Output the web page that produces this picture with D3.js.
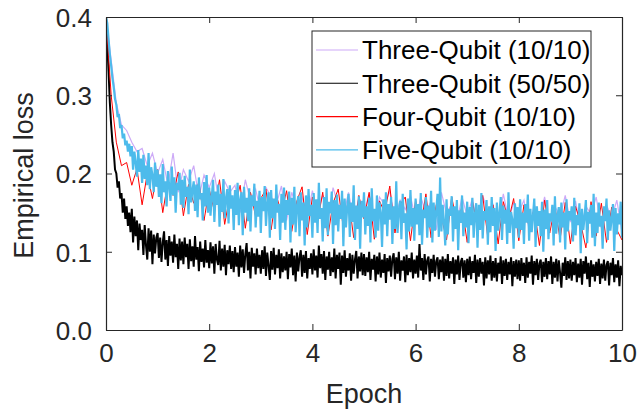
<!DOCTYPE html>
<html>
<head>
<meta charset="utf-8">
<script src="https://cdn.jsdelivr.net/npm/d3@7"></script>
<style>
  body { margin: 0; background: #fff; }
  svg { display: block; font-family: "Liberation Sans", Arial, sans-serif; }
</style>
</head>
<body>
<svg id="chart" width="638" height="409"></svg>
<script>
// loss values, evenly spaced over epochs 0..10
const xTicks = [0, 2, 4, 6, 8, 10];
const yTicks = [0, 0.1, 0.2, 0.3, 0.4];
const seriesNames = ["Three-Qubit (10/10)", "Three-Qubit (50/50)", "Four-Qubit (10/10)", "Five-Qubit (10/10)"];
const seriesColors = ["#cdaaf7", "#000000", "#ff0000", "#4dbbeb"];

// every 0.1 epoch
const threeQubit10 = [
  .400,.345,.290,.262,.255,.240,.228,.232,.210,.226,
  .200,.218,.185,.226,.176,.205,.190,.210,.170,.198,
  .182,.200,.160,.190,.176,.185,.150,.192,.165,.180,
  .150,.182,.170,.160,.184,.140,.176,.155,.170,.145,
  .178,.150,.172,.138,.182,.160,.145,.176,.140,.168,
  .150,.174,.132,.170,.160,.178,.142,.166,.154,.172,
  .140,.170,.150,.165,.128,.176,.148,.162,.138,.170,
  .145,.168,.130,.172,.150,.160,.135,.174,.142,.162,
  .150,.166,.128,.160,.140,.170,.135,.158,.145,.172,
  .138,.165,.126,.158,.148,.170,.130,.160,.143,.166,
  .125
];
// every 0.025 epoch
const threeQubit50 = [
  .400,.365,.330,.290,.262,.240,.228,.205,.200,.182,.190,.168,.175,.150,.168,.142,.158,.133,.150,.125,
  .155,.112,.145,.120,.140,.102,.136,.115,.128,.096,.134,.108,.090,.130,.100,.127,.084,.122,.098,.118,
  .124,.092,.118,.087,.112,.126,.090,.115,.082,.120,.095,.113,.086,.122,.093,.110,.078,.117,.089,.113,
  .084,.118,.093,.110,.078,.116,.088,.107,.081,.120,.090,.106,.075,.113,.087,.104,.080,.115,.086,.102,
  .079,.112,.085,.107,.072,.110,.090,.083,.114,.076,.104,.081,.109,.070,.102,.084,.108,.078,.101,.074,
  .106,.081,.099,.068,.108,.080,.103,.073,.097,.111,.076,.100,.066,.105,.081,.098,.071,.104,.079,.096,
  .072,.102,.078,.107,.069,.099,.082,.064,.101,.077,.105,.071,.096,.079,.103,.066,.098,.074,.094,.076,
  .100,.065,.097,.080,.104,.070,.095,.062,.099,.075,.093,.102,.068,.096,.073,.101,.066,.092,.078,.098,
  .071,.103,.076,.095,.067,.108,.079,.097,.072,.101,.064,.094,.077,.100,.069,.093,.074,.104,.066,.096,
  .078,.099,.058,.095,.073,.102,.068,.092,.076,.098,.063,.096,.072,.090,.101,.066,.094,.075,.099,.070,
  .097,.069,.093,.074,.100,.064,.091,.077,.096,.062,.094,.071,.099,.067,.090,.073,.097,.060,.092,.075,
  .095,.068,.091,.098,.065,.093,.072,.100,.063,.089,.076,.094,.061,.096,.070,.092,.074,.099,.066,.090,
  .072,.095,.067,.110,.076,.092,.064,.097,.071,.089,.094,.062,.091,.073,.096,.068,.088,.093,.065,.090,
  .074,.094,.063,.091,.069,.097,.066,.088,.072,.093,.059,.090,.071,.095,.064,.087,.092,.067,.089,.061,
  .091,.070,.094,.065,.088,.073,.096,.060,.090,.068,.092,.072,.087,.057,.093,.066,.089,.071,.095,.063,
  .088,.067,.092,.062,.086,.072,.094,.059,.089,.069,.091,.064,.087,.071,.093,.056,.088,.068,.090,.065,
  .089,.063,.092,.069,.086,.060,.093,.067,.087,.072,.095,.058,.088,.070,.091,.064,.085,.090,.061,.087,
  .068,.092,.065,.088,.071,.094,.059,.087,.067,.091,.062,.089,.073,.054,.086,.069,.093,.064,.088,.066,
  .090,.063,.087,.070,.092,.061,.085,.067,.091,.058,.088,.072,.094,.065,.086,.055,.089,.068,.084,.062,
  .087,.069,.091,.059,.085,.066,.090,.063,.083,.088,.057,.086,.070,.092,.061,.084,.067,.089,.056,.082,
  .070
];
// every 0.1 epoch
const fourQubit10 = [
  .400,.300,.240,.210,.214,.185,.206,.160,.200,.168,
  .205,.150,.190,.172,.202,.146,.186,.162,.190,.140,
  .180,.152,.192,.135,.172,.158,.185,.130,.176,.145,
  .168,.180,.128,.172,.150,.178,.126,.165,.183,.122,
  .170,.138,.176,.120,.162,.180,.130,.168,.118,.172,
  .142,.176,.116,.165,.150,.184,.124,.160,.170,.114,
  .166,.132,.174,.118,.160,.145,.115,.170,.136,.158,
  .112,.165,.130,.172,.118,.160,.110,.164,.140,.168,
  .114,.160,.132,.155,.108,.166,.124,.158,.116,.163,
  .110,.158,.136,.105,.164,.120,.162,.112,.157,.128,
  .115
];
// every 0.025 epoch
const fiveQubit10 = [
  .400,.392,.371,.352,.338,.322,.310,.295,.288,.272,.276,.258,.262,.245,.251,.236,.242,.228,.238,.222,
  .235,.205,.228,.214,.196,.230,.202,.219,.188,.224,.193,.210,.185,.226,.180,.208,.198,.176,.214,.183,
  .205,.170,.199,.162,.212,.176,.190,.158,.203,.184,.165,.209,.172,.195,.150,.188,.179,.201,.160,.192,
  .156,.197,.170,.183,.148,.205,.163,.178,.190,.152,.186,.144,.195,.167,.175,.140,.189,.158,.198,.150,
  .182,.146,.170,.192,.138,.177,.160,.186,.132,.174,.151,.193,.143,.168,.180,.136,.185,.155,.172,.128,
  .179,.147,.188,.134,.166,.176,.121,.183,.150,.169,.139,.181,.126,.172,.158,.187,.131,.165,.145,.178,
  .124,.170,.152,.184,.133,.162,.176,.118,.179,.143,.168,.129,.186,.150,.161,.115,.174,.137,.182,.128,
  .166,.147,.177,.112,.169,.135,.183,.125,.158,.171,.120,.176,.140,.163,.108,.172,.131,.180,.146,.160,
  .118,.175,.137,.167,.124,.188,.142,.156,.113,.170,.130,.181,.121,.164,.149,.177,.110,.166,.134,.173,
  .126,.160,.142,.178,.107,.168,.131,.157,.174,.119,.163,.138,.185,.115,.159,.129,.171,.104,.165,.144,
  .176,.122,.158,.133,.169,.112,.181,.139,.155,.118,.172,.127,.163,.150,.106,.167,.135,.176,.120,.161,
  .141,.170,.110,.158,.129,.190,.124,.153,.165,.116,.174,.137,.149,.103,.168,.126,.179,.132,.156,.114,
  .168,.135,.161,.121,.175,.109,.154,.143,.170,.118,.159,.131,.178,.112,.163,.127,.152,.174,.119,.195,
  .126,.160,.138,.108,.167,.122,.155,.146,.171,.113,.158,.129,.166,.102,.153,.137,.172,.120,.150,.131,
  .164,.111,.157,.134,.169,.118,.148,.162,.105,.160,.128,.175,.117,.152,.140,.166,.109,.158,.125,.170,
  .133,.156,.101,.163,.127,.149,.170,.115,.159,.136,.154,.110,.176,.124,.151,.141,.104,.162,.130,.157,
  .118,.167,.128,.150,.110,.161,.137,.173,.114,.155,.125,.146,.168,.106,.158,.133,.152,.120,.164,.100,
  .154,.129,.166,.116,.149,.139,.160,.108,.171,.123,.145,.157,.112,.163,.131,.150,.103,.167,.126,.152,
  .140,.158,.113,.169,.121,.147,.134,.162,.098,.155,.128,.145,.166,.111,.151,.136,.160,.118,.174,.107,
  .150,.124,.163,.132,.146,.104,.158,.139,.168,.115,.153,.127,.143,.161,.101,.156,.122,.149,.135,.164,
  .118
];
const allSeries = [threeQubit10, threeQubit50, fourQubit10, fiveQubit10];
const strokeWidths = [1.2, 2.0, 1.0, 2.2];

(function(){
  const MARGIN = { top: 17, right: 16, bottom: 79, left: 106 };
  const svg = d3.select('#chart');
  const width = +svg.attr('width') - MARGIN.left - MARGIN.right;
  const height = +svg.attr('height') - MARGIN.top - MARGIN.bottom;
  const axisColor = '#262626';

  const x = d3.scaleLinear().domain([0, 10]).range([0, width]);
  const y = d3.scaleLinear().domain([0, 0.4]).range([height, 0]);

  const g = svg.append('g')
    .attr('transform', 'translate(' + MARGIN.left + ',' + MARGIN.top + ')');

  g.append('clipPath').attr('id', 'plotClip')
    .append('rect').attr('width', width).attr('height', height);

  // lines in legend order, so the blue one ends up on top
  const plot = g.append('g').attr('clip-path', 'url(#plotClip)');
  allSeries.forEach(function(s, k){
    const step = 10 / (s.length - 1);
    const line = d3.line()
      .x(function(d, i){ return x(i * step); })
      .y(function(d){ return y(d); });
    plot.append('path')
      .datum(s)
      .attr('fill', 'none')
      .attr('stroke', seriesColors[k])
      .attr('stroke-width', strokeWidths[k])
      .attr('stroke-linejoin', 'miter')
      .attr('d', line);
  });

  // axes, ticks inward on all four sides
  const fmt = d3.format('.1f');
  const bottom = g.append('g').attr('transform', 'translate(0,' + height + ')')
    .call(d3.axisBottom(x).tickValues(xTicks).tickSizeInner(-6).tickSizeOuter(0).tickPadding(14));
  const left = g.append('g')
    .call(d3.axisLeft(y).tickValues(yTicks).tickFormat(fmt).tickSizeInner(-6).tickSizeOuter(0).tickPadding(14));
  const top = g.append('g')
    .call(d3.axisTop(x).tickValues(xTicks).tickSizeInner(-6).tickSizeOuter(0).tickFormat(''));
  const right = g.append('g').attr('transform', 'translate(' + width + ',0)')
    .call(d3.axisRight(y).tickValues(yTicks).tickSizeInner(-6).tickSizeOuter(0).tickFormat(''));

  [bottom, left, top, right].forEach(function(a){
    a.select('.domain').attr('stroke', axisColor).attr('stroke-width', 1.2);
    a.selectAll('.tick line').attr('stroke', axisColor).attr('stroke-width', 1);
    a.selectAll('.tick text')
      .attr('fill', axisColor)
      .style('font-size', '26px')
      .style('font-family', '"Liberation Sans", Arial, sans-serif');
  });
  left.selectAll('.tick text').attr('dy', '0.36em');

  // axis labels
  g.append('text')
    .attr('x', width / 2).attr('y', height + 73)
    .attr('text-anchor', 'middle')
    .attr('fill', axisColor)
    .style('font-size', '27px')
    .text('Epoch');
  g.append('text')
    .attr('transform', 'translate(' + (33 - MARGIN.left) + ',' + (height / 2 + 2) + ') rotate(-90)')
    .attr('text-anchor', 'middle')
    .attr('fill', axisColor)
    .style('font-size', '27px')
    .text('Empirical loss');

  // legend
  const leg = g.append('g').attr('transform', 'translate(' + (312 - MARGIN.left) + ',' + (31 - MARGIN.top) + ')');
  leg.append('rect')
    .attr('width', 279).attr('height', 136)
    .attr('fill', '#fff')
    .attr('stroke', axisColor)
    .attr('stroke-width', 1);
  seriesNames.forEach(function(name, k){
    const row = leg.append('g').attr('transform', 'translate(0,' + (19 + k * 33.3) + ')');
    row.append('line')
      .attr('x1', 4).attr('x2', 46)
      .attr('stroke', seriesColors[k])
      .attr('stroke-width', 1.1);
    row.append('text')
      .attr('x', 50).attr('dy', '0.36em')
      .attr('fill', '#000')
      .style('font-size', '26px')
      .text(name);
  });
})();
</script>
</body>
</html>
